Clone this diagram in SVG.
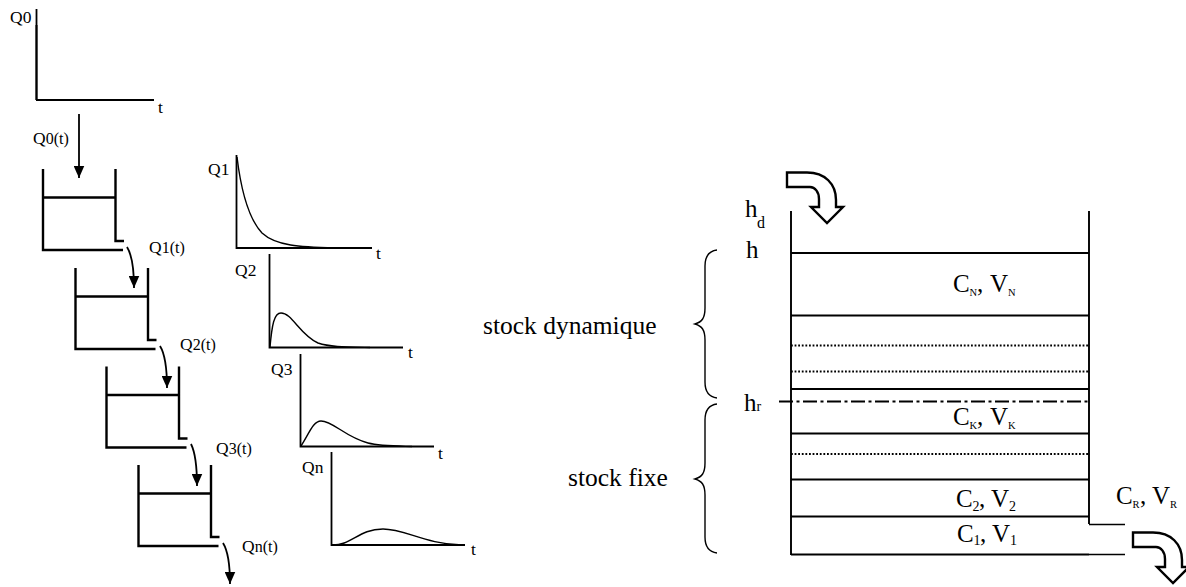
<svg xmlns="http://www.w3.org/2000/svg" xmlns:xlink="http://www.w3.org/1999/xlink" width="1186" height="587" viewBox="0 0 1186 587">
<style>
text{font-family:"Liberation Serif","Times New Roman",serif;fill:#000}
.q{font-size:17.500px}
.s{font-size:16px}
.big{font-size:25px}
.mid{font-size:25.500px}
.c{font-size:25px}
.sub{font-size:10.500px}
.sub2{font-size:14px}
.thin{fill:none;stroke:#000;stroke-width:1.400}
.ax{fill:none;stroke:#000;stroke-width:1.800}
.tank{fill:none;stroke:#000;stroke-width:2.400}
.lay{fill:none;stroke:#000;stroke-width:1.900}
.dot{fill:none;stroke:#000;stroke-width:1.800;stroke-dasharray:1.800 1.800}
.blk{fill:#fff;stroke:#000;stroke-width:2.400}
</style>
<defs>
<marker id="ah" markerUnits="userSpaceOnUse" markerWidth="13" markerHeight="11" refX="12.500" refY="5.500" orient="auto"><path d="M0 0L12.500 5.500L0 11Z" fill="#000"/></marker>
<g id="tankshape"><path class="tank" d="M0 0V81H80M72.500 0V72H81M0 28.500H72.500"/></g>
<path id="blockarrow" class="blk" d="M787 172.500H807C825 172.500 836 184 836 200V207H843L827 223L811 207H819V199C819 192 815 187 810 187H787Z"/>
</defs>
<g id="connectors">
<path class="ax" d="M79 114V178" marker-end="url(#ah)"/>
<path class="ax" d="M127 247C132 255 134 268 134 288" marker-end="url(#ah)"/>
<path class="ax" d="M160 346C165 354 167 367 167 388" marker-end="url(#ah)"/>
<path class="ax" d="M191 444C195 452 197 465 197 486" marker-end="url(#ah)"/>
<path class="ax" d="M223 543C228 551 230 564 230 584" marker-end="url(#ah)"/>
</g>
<g id="plot-q0">
<path class="ax" d="M36.500 9V25"/><path class="tank" d="M36.500 25V100"/><path class="ax" d="M36 100H154"/>
<text class="q" x="10" y="23">Q0</text><text class="q" x="158" y="113">t</text>
</g>
<g id="label-q0t"><text class="q" x="33" y="144">Q<tspan class="s">0(t)</tspan></text></g>
<g id="tank-1"><use xlink:href="#tankshape" href="#tankshape" x="43" y="169"/><text class="q" x="149" y="253">Q<tspan class="s">1(t)</tspan></text></g>
<g id="tank-2"><use xlink:href="#tankshape" href="#tankshape" x="75.500" y="268"/><text class="q" x="180" y="350">Q<tspan class="s">2(t)</tspan></text></g>
<g id="tank-3"><use xlink:href="#tankshape" href="#tankshape" x="106.500" y="366.500"/><text class="q" x="216" y="454">Q<tspan class="s">3(t)</tspan></text></g>
<g id="tank-n"><use xlink:href="#tankshape" href="#tankshape" x="138.500" y="465"/><text class="q" x="242" y="552">Q<tspan class="s">n(t)</tspan></text></g>
<g id="plot-q1">
<path class="ax" d="M236.500 155V248H372"/>
<path class="thin" d="M237 157C241 190 248 218 262 233C276 246 300 247 335 248"/>
<text class="q" x="208" y="175">Q1</text><text class="q" x="376" y="259">t</text>
</g>
<g id="plot-q2">
<path class="ax" d="M269.500 254V347.500H403"/>
<path class="thin" d="M270 347C272 325 274 313 281 313C292 313 300 335 318 343C330 347 345 347 370 347.500"/>
<text class="q" x="235" y="276">Q2</text><text class="q" x="408" y="358">t</text>
</g>
<g id="plot-q3">
<path class="ax" d="M300.500 354V446.500H434"/>
<path class="thin" d="M301 446C309 434 313 421 321 421C333 421 345 437 368 443C380 446 395 446 412 446.500"/>
<text class="q" x="271" y="375">Q3</text><text class="q" x="438" y="459">t</text>
</g>
<g id="plot-qn">
<path class="ax" d="M331.500 452V545H465"/>
<path class="thin" d="M331 545C352 546 358 529 383 529C405 529 425 544 462 545"/>
<text class="q" x="302" y="473">Qn</text><text class="q" x="471" y="555">t</text>
</g>
<g id="column">
<path class="lay" d="M791 211V555M1089 211V524M791 253H1089M791 315.500H1089M791 389H1089M791 433.500H1089M791 479.500H1089M791 516.500H1089M791 554.500H1089"/>
<path class="thin" d="M1089 524.500H1125M1089 554.500H1125"/>
<path class="dot" d="M791 345.500H1089M791 371.500H1089M791 454H1089"/>
<path class="lay" stroke-dasharray="14 3.500 3 3.500" d="M779 401.500H1089"/>
</g>
<g id="brace-dyn"><path class="thin" d="M717 250C709 251 705 256 705 266V308C705 318 702 322 695 324C702 326 705 330 705 340V382C705 392 709 397 717 398"/></g>
<g id="brace-fix"><path class="thin" d="M717 404C709 405 705 410 705 420V463C705 473 702 477 695 479C702 481 705 485 705 495V537C705 547 709 552 717 553"/></g>
<g id="labels">
<text class="big" x="745" y="216.500">h<tspan class="s" x="757" y="228">d</tspan></text>
<text class="big" x="746" y="258">h</text>
<text class="big" x="744" y="411">h<tspan class="sub2" x="756.500" y="411">r</tspan></text>
<text class="mid" x="483" y="334">stock dynamique</text>
<text class="mid" x="568" y="486">stock fixe</text>
<text class="c" x="953" y="292">C<tspan class="sub" x="969.500" y="296">N</tspan><tspan x="977" y="292">,</tspan><tspan x="990" y="292">V</tspan><tspan class="sub" x="1008" y="296">N</tspan></text>
<text class="c" x="953" y="425">C<tspan class="sub" x="969.500" y="429">K</tspan><tspan x="977" y="425">,</tspan><tspan x="990" y="425">V</tspan><tspan class="sub" x="1008" y="429">K</tspan></text>
<text class="c" x="956" y="507">C<tspan class="sub2" x="972.500" y="511">2</tspan><tspan x="979" y="507">,</tspan><tspan x="991" y="507">V</tspan><tspan class="sub2" x="1009" y="511">2</tspan></text>
<text class="c" x="957" y="542">C<tspan class="sub2" x="973.500" y="545">1</tspan><tspan x="980" y="542">,</tspan><tspan x="992" y="542">V</tspan><tspan class="sub2" x="1010" y="545">1</tspan></text>
<text class="c" x="1116" y="504">C<tspan class="sub" x="1132.500" y="508">R</tspan><tspan x="1140" y="504">,</tspan><tspan x="1152" y="504">V</tspan><tspan class="sub" x="1170" y="508">R</tspan></text>
</g>
<g id="flow-in"><use xlink:href="#blockarrow" href="#blockarrow"/></g>
<g id="flow-out"><use xlink:href="#blockarrow" href="#blockarrow" x="346" y="360"/></g>
</svg>
